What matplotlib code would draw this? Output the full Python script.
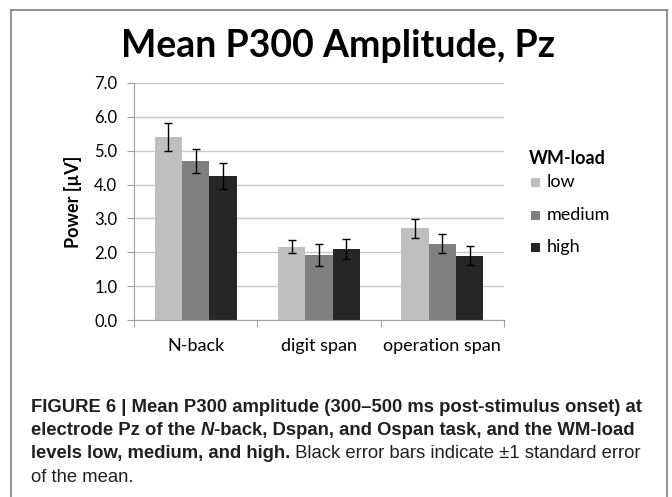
import matplotlib
matplotlib.use("Agg")
import matplotlib.pyplot as plt
import numpy as np
from matplotlib.patches import Rectangle
from matplotlib.lines import Line2D

categories = ["N-back", "digit span", "operation span"]
loads = ["low", "medium", "high"]
low_vals = [5.40, 2.17, 2.71]
medium_vals = [4.69, 1.93, 2.25]
high_vals = [4.26, 2.10, 1.90]
low_err = [0.40, 0.19, 0.28]
medium_err = [0.35, 0.32, 0.28]
high_err = [0.38, 0.30, 0.28]
yticks = [0.0, 1.0, 2.0, 3.0, 4.0, 5.0, 6.0, 7.0]
colors = ["#bfbfbf", "#808080", "#262626"]

ui_font = "Lato"
cap_font = "Liberation Sans"

W, H = 672, 497
fig = plt.figure(figsize=(W / 100, H / 100), dpi=100)
ax = fig.add_axes([134 / W, 1 - 320.3 / H, 370 / W, (320.3 - 82.7) / H])

x = np.arange(len(categories))
w = 0.222
series = [(low_vals, low_err), (medium_vals, medium_err), (high_vals, high_err)]
for i, (vals, errs) in enumerate(series):
    ax.bar(x + (i - 1) * w, vals, width=w, color=colors[i], zorder=2, label=loads[i])
    ax.errorbar(x + (i - 1) * w, vals, yerr=errs, fmt="none", ecolor="black",
                elinewidth=1.0, capsize=2.8, capthick=1.0, zorder=3)

ax.set_xlim(-0.5, len(categories) - 0.5)
ax.set_ylim(0, 7)
ax.set_yticks(yticks)
ax.set_yticklabels([f"{v:.1f}" for v in yticks], fontfamily=ui_font, fontsize=12)
ax.set_xticks(x)
ax.set_xticklabels(categories, fontfamily=ui_font, fontsize=13)
ax.set_xticks(np.arange(len(categories) + 1) - 0.5, minor=True)
ax.tick_params(axis="x", which="major", length=0, pad=13)
ax.tick_params(axis="x", which="minor", length=5, color="#a0a0a0", width=0.8)
ax.tick_params(axis="y", length=5, color="#a0a0a0", width=0.8, pad=7)
ax.yaxis.grid(True, color="#c8c8c8", linewidth=1.0, zorder=0)
ax.set_axisbelow(True)
for s in ["top", "right"]:
    ax.spines[s].set_visible(False)
for s in ["left", "bottom"]:
    ax.spines[s].set_color("#a0a0a0")
    ax.spines[s].set_linewidth(0.8)

fig.text(73 / W, 1 - 201.5 / H, "Power [µV]", rotation=90, ha="center", va="center",
         fontfamily=ui_font, fontweight="bold", fontsize=13)

fig.text(338 / W, 1 - 57 / H, "Mean P300 Amplitude, Pz", ha="center", va="baseline",
         fontfamily=ui_font, fontweight="bold", fontsize=27)

# legend (title + entries)
fig.text(529 / W, 1 - 158 / H, "WM-load", ha="left", va="center",
         fontfamily=ui_font, fontweight="bold", fontsize=13)
leg_y = [182, 215, 247]
for lab, c, yc in zip(loads, colors, leg_y):
    fig.add_artist(Rectangle((531 / W, 1 - (yc + 4.5) / H), 9 / W, 9 / H,
                             transform=fig.transFigure, facecolor=c, edgecolor="none"))
    fig.text(547 / W, 1 - yc / H, lab, ha="left", va="center",
             fontfamily=ui_font, fontsize=13)

# frame
for xs, ys in [([11, 667], [10, 10]), ([11, 11], [10, H + 5]), ([667, 667], [10, H + 5])]:
    fig.add_artist(Line2D([v / W for v in xs], [1 - v / H for v in ys],
                          transform=fig.transFigure, color="#808080", linewidth=1.2))

# caption with mixed styles
caption = [
    [("FIGURE 6 | Mean P300 amplitude (300–500 ms post-stimulus onset) at", "bold", "normal")],
    [("electrode Pz of the ", "bold", "normal"), ("N", "bold", "italic"),
     ("-back, Dspan, and Ospan task, and the WM-load", "bold", "normal")],
    [("levels low, medium, and high.", "bold", "normal"),
     (" Black error bars indicate ±1 standard error", "normal", "normal")],
    [("of the mean.", "normal", "normal")],
]
renderer = fig.canvas.get_renderer()
baselines = [411.8, 435.0, 458.5, 481.8]
cap_size = 13.3
for line, yb in zip(caption, baselines):
    xpx = 31.0
    for txt, wt, st in line:
        t = fig.text(xpx / W, 1 - yb / H, txt, ha="left", va="baseline", fontfamily=cap_font,
                     fontweight=wt, fontstyle=st, fontsize=cap_size, color="#231f20")
        bb = t.get_window_extent(renderer=renderer)
        xpx = bb.x1

fig.savefig("out.png", dpi=100)
